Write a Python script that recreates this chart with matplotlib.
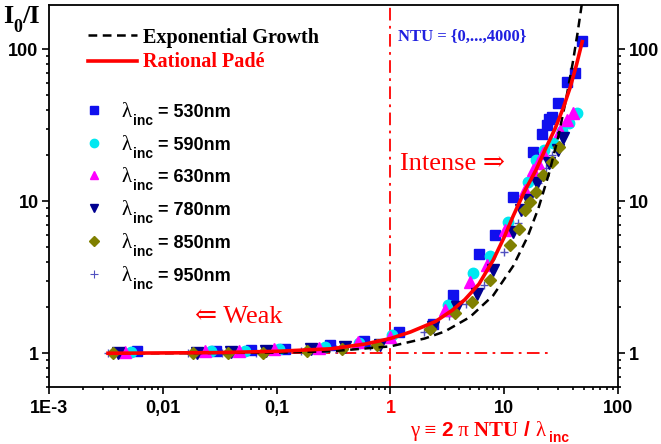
import matplotlib
matplotlib.use('Agg')
import matplotlib.pyplot as plt
from matplotlib.ticker import FixedLocator, LogLocator, NullFormatter
from matplotlib.transforms import IdentityTransform
from matplotlib.lines import Line2D

W, H = 661, 444

# valeurs
x_530 = [0.0059, 0.0296, 0.059, 0.118, 0.296, 0.59, 1.19, 2.37, 3.57, 6.0, 8.3, 11.9,
         17.8, 21.3, 23.6, 24.8, 26.1, 29.9, 35.4, 41.9, 48.5]
y_530 = [1.03, 1.04, 1.05, 1.06, 1.13, 1.2, 1.38, 1.55, 2.41, 4.48, 5.98, 10.7,
         21.1, 27.6, 31.6, 34.5, 35.9, 44.0, 60.9, 69.8, 113.5]

x_590 = [0.0053, 0.0266, 0.053, 0.106, 0.266, 0.53, 1.03, 3.23, 5.36, 7.5, 10.9,
         16.3, 18.9, 22.5, 26.7, 32.0, 37.3, 43.4]
y_590 = [1.02, 1.03, 1.04, 1.06, 1.1, 1.17, 1.31, 2.07, 3.35, 4.35, 7.3,
         13.4, 18.6, 21.7, 24.0, 29.0, 32.7, 37.8]

x_630 = [0.0047, 0.0236, 0.047, 0.094, 0.236, 0.52, 1.0, 3.02, 5.0, 7.0, 10.2,
         15.2, 17.8, 20.0, 22.1, 30.9, 35.4, 40.5]
y_630 = [1.02, 1.03, 1.04, 1.06, 1.08, 1.19, 1.28, 1.92, 2.95, 3.79, 6.45,
         11.8, 16.0, 17.7, 20.6, 29.0, 34.1, 37.8]

x_780 = [0.0040, 0.020, 0.040, 0.081, 0.20, 0.40, 0.81, 2.38, 3.82, 5.73, 8.04,
         11.9, 14.0, 16.3, 19.3, 24.9, 29.5, 33.1]
y_780 = [1.0, 1.01, 1.02, 1.03, 1.06, 1.1, 1.14, 1.49, 2.02, 2.47, 3.55,
         6.28, 8.8, 10.2, 13.2, 17.7, 21.7, 25.9]

x_850 = [0.00365, 0.0184, 0.0374, 0.0759, 0.185, 0.373, 0.759, 2.23, 3.7, 5.25, 7.5,
         11.2, 13.6, 15.2, 16.9, 18.9, 22.1, 26.1, 30.5]
y_850 = [1.0, 1.0, 1.01, 1.01, 1.04, 1.07, 1.13, 1.44, 1.84, 2.16, 3.05,
         5.14, 6.6, 8.7, 9.9, 11.5, 14.8, 18.1, 22.8]

x_950 = [0.0033, 0.0165, 0.033, 0.066, 0.165, 0.33, 0.66, 1.98, 3.3, 4.6, 6.6,
         9.9, 13.2, 16.5, 19.8, 23.1, 26.5]
y_950 = [1.0, 1.0, 1.01, 1.01, 1.03, 1.06, 1.11, 1.38, 1.75, 2.1, 2.8,
         4.6, 7.2, 10.0, 13.2, 16.5, 20.0]

# courbes
x_pade = [0.0033, 0.01, 0.03, 0.1, 0.3, 0.6, 1.0, 1.5, 2.5, 3.5, 4.5, 6.0, 8.0, 10.0,
          12.0, 15.0, 19.0, 23.0, 28.0, 33.0, 38.0, 43.0, 48.5]
y_pade = [1.0, 1.005, 1.01, 1.03, 1.07, 1.15, 1.25, 1.38, 1.62, 1.92, 2.25, 2.85, 4.1, 5.8,
          8.0, 11.5, 16.0, 22.0, 30.0, 41.0, 56.0, 78.0, 112.0]

x_exp = [0.0033, 0.01, 0.1, 0.3, 1.0, 2.0, 3.0, 5.0, 8.0, 12.0, 16.0, 20.0, 25.0,
         30.0, 35.0, 40.0, 44.0, 48.0]
y_exp = [1.0, 1.0, 1.01, 1.03, 1.11, 1.25, 1.39, 1.73, 2.4, 3.75, 5.8, 9.0, 15.6,
         27.0, 47.0, 81.0, 126.0, 196.0]

series = [
    ("530nm", x_530, y_530, 's', '#1010ee', 7),
    ("590nm", x_590, y_590, 'o', '#00e8f0', 7.5),
    ("630nm", x_630, y_630, '^', '#ff00ff', 8),
    ("780nm", x_780, y_780, 'v', '#000090', 8),
    ("850nm", x_850, y_850, 'D', '#808000', 6.5),
    ("950nm", x_950, y_950, '+', '#5050c0', 6),
]

x_ticks = [1e-3, 1e-2, 1e-1, 1, 10, 100]
x_labels = ["1E-3", "0,01", "0,1", "1", "10", "100"]
y_ticks = [1, 10, 100]
y_labels = ["1", "10", "100"]

SANS = 'Liberation Sans'
SERIF = 'Liberation Serif'

fig = plt.figure(figsize=(W / 100, H / 100), dpi=100)
ax = fig.add_axes([49 / W, 57 / H, 569 / W, 382 / H])
ax.set_xscale('log')
ax.set_yscale('log')

for i, (nom, xs, ys, m, c, ms) in enumerate(series):
    if m == '+':
        ax.plot(xs, ys, ls='none', marker=m, color=c, ms=ms, mew=1, zorder=1.5)
    else:
        ax.plot(xs, ys, ls='none', marker=m, color=c, mec=c, ms=ms, zorder=2 + i * 0.1)

ax.axvline(1, color='red', lw=1.3, ls=(0, (7, 3, 1.5, 3)), zorder=1)
ax.plot([0.0033, 25], [1, 1], color='red', lw=1.3, ls=(0, (7, 3, 1.5, 3)), zorder=1)
ax.plot(x_exp, y_exp, color='black', lw=1.8, ls=(0, (3.5, 2.2)), zorder=4)
ax.plot(x_pade, y_pade, color='red', lw=2.6, zorder=5)

ax.set_xlim(1e-3, 100)
ax.set_ylim(0.6, 195)

ax.xaxis.set_major_locator(FixedLocator(x_ticks))
ax.set_xticklabels(x_labels)
ax.xaxis.set_minor_locator(LogLocator(base=10, subs=range(2, 10), numticks=20))
ax.xaxis.set_minor_formatter(NullFormatter())
ax.yaxis.set_major_locator(FixedLocator(y_ticks))
ax.set_yticklabels(y_labels)
ax.yaxis.set_minor_locator(LogLocator(base=10, subs=range(2, 10), numticks=20))
ax.yaxis.set_minor_formatter(NullFormatter())

ax.tick_params(which='both', direction='out', top=False, right=True, labelright=True,
               width=1.2)
ax.tick_params(which='major', length=5, labelsize=13, pad=2.5)
ax.tick_params(axis='x', which='major', pad=4)
ax.tick_params(which='minor', length=2.5)
for lab in ax.get_xticklabels() + ax.get_yticklabels():
    lab.set_fontfamily(SANS)
    lab.set_fontweight('bold')
ax.get_xticklabels()[3].set_color('red')
for s in ax.spines.values():
    s.set_linewidth(1.3)

rend = fig.canvas.get_renderer()


def chaine(x, y, morceaux):
    # place des bouts de texte l'un après l'autre (pixels, y depuis le haut)
    for txt, kw in morceaux:
        kw = dict(kw)
        dy = kw.pop('dy', 0)
        gap = kw.pop('gap', 0)
        t = fig.text(x + gap, H - y + dy, txt, transform=IdentityTransform(),
                     va='baseline', ha='left', **kw)
        bb = t.get_window_extent(rend)
        x = bb.x1


# légende
leg_x0, leg_x1 = 88, 137
ax_lines = [(35, 'black', (0, (3.5, 2.2)), 1.8, "Exponential Growth", 'black', 43),
            (61, 'red', '-', 2.6, "Rational Padé", 'red', 67)]
for yl, c, ls, lw, txt, tc, yb in ax_lines:
    fig.add_artist(Line2D([leg_x0 / W, leg_x1 / W], [(H - yl) / H, (H - yl) / H],
                          color=c, ls=ls, lw=lw))
    chaine(143, yb, [(txt, dict(family=SERIF, weight='bold', size=14.5, color=tc))])

leg_y = [110, 143, 175, 208, 241, 274]
for (nom, xs, ys, m, c, ms), yy in zip(series, leg_y):
    if m == '+':
        fig.add_artist(Line2D([94 / W], [(H - yy) / H], ls='none', marker=m, color=c,
                              ms=ms * 0.9, mew=0.8))
    else:
        fig.add_artist(Line2D([94 / W], [(H - yy) / H], ls='none', marker=m, color=c,
                              ms=ms * 0.8))
    chaine(122, yy + 7, [
        ("λ", dict(family=SERIF, size=15)),
        ("inc", dict(family=SANS, weight='bold', size=10, dy=-8, gap=1)),
        ("= " + nom, dict(family=SANS, weight='bold', size=13, gap=5)),
    ])

# titre de l'axe y
chaine(3, 23, [
    ("I", dict(family=SERIF, weight='bold', size=19)),
    ("0", dict(family=SERIF, weight='bold', size=13, dy=-9)),
    ("/I", dict(family=SERIF, weight='bold', size=19, dy=0)),
])

# titre de l'axe x
rouge = dict(color='red')
chaine(410, 436, [
    ("γ ≡ ", dict(family=SERIF, size=15, **rouge)),
    ("2", dict(family=SANS, weight='bold', size=15, **rouge)),
    (" π ", dict(family=SERIF, size=15, **rouge)),
    ("NTU ", dict(family=SERIF, weight='bold', size=15, **rouge)),
    ("/ ", dict(family=SANS, weight='bold', size=15, **rouge)),
    ("λ", dict(family=SERIF, size=15, **rouge)),
    ("inc", dict(family=SANS, weight='bold', size=10, dy=-6, gap=4, **rouge)),
])

chaine(398, 41, [("NTU = {0,...,4000}", dict(family=SERIF, weight='bold', size=12,
                                              color='#2020e0'))])
chaine(400, 170, [("Intense ⇒", dict(family=[SERIF, 'DejaVu Serif'], size=19,
                                      color='red'))])
chaine(195, 323, [("⇐ Weak", dict(family=[SERIF, 'DejaVu Serif'], size=19, color='red'))])

fig.savefig('out.png', dpi=100)
